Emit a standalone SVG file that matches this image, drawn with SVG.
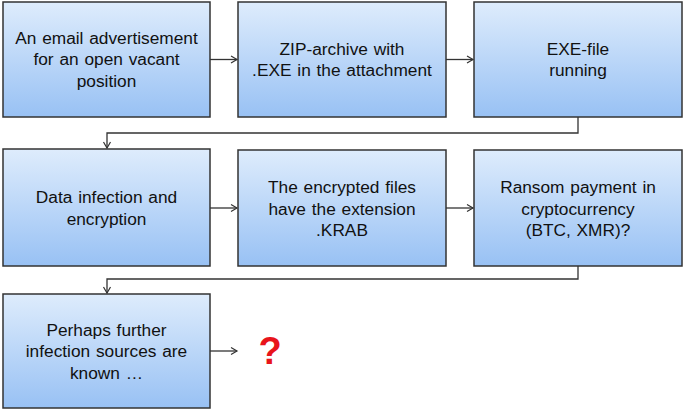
<svg xmlns="http://www.w3.org/2000/svg" width="685" height="414" viewBox="0 0 685 414">
<defs>
<linearGradient id="g" x1="0" y1="0" x2="0" y2="1">
<stop offset="0" stop-color="#deecfc"/>
<stop offset="1" stop-color="#98c1f4"/>
</linearGradient>
<marker id="a" markerWidth="10" markerHeight="10" refX="8" refY="5" orient="auto" markerUnits="userSpaceOnUse">
<path d="M2,1.5 L8,5 L2,8.5" fill="none" stroke="#333" stroke-width="1.2"/>
</marker>
</defs>
<style>
.box{fill:url(#g);stroke:#333;stroke-width:1.5}
.t{font-family:"Liberation Sans",Arial,sans-serif;font-size:17.3px;word-spacing:1px;fill:#111;text-anchor:middle}
.c{fill:none;stroke:#333;stroke-width:1.3;marker-end:url(#a)}
</style>
<g id="connectors">
<path class="c" d="M210,59.5 H237"/>
<path class="c" d="M446,59.5 H473"/>
<path class="c" d="M578,117 V133 H107 V148"/>
<path class="c" d="M210,208 H237"/>
<path class="c" d="M446,208 H473"/>
<path class="c" d="M578,266 V279 H107 V293"/>
<path class="c" d="M210,351 H237"/>
</g>
<g id="n1"><rect class="box" x="3" y="2" width="207" height="115"/>
<text class="t" x="106.5" y="43.5">An email advertisement</text><text class="t" x="106.5" y="65">for an open vacant</text><text class="t" x="106.5" y="86.5">position</text></g>
<g id="n2"><rect class="box" x="238" y="2" width="208" height="115"/>
<text class="t" x="342" y="54.5">ZIP-archive with</text><text class="t" x="342" y="76">.EXE in the attachment</text></g>
<g id="n3"><rect class="box" x="474" y="2" width="208" height="115"/>
<text class="t" x="578" y="54.5">EXE-file</text><text class="t" x="578" y="76">running</text></g>
<g id="n4"><rect class="box" x="3" y="149" width="207" height="117"/>
<text class="t" x="106.5" y="203">Data infection and</text><text class="t" x="106.5" y="224.5">encryption</text></g>
<g id="n5"><rect class="box" x="238" y="150" width="208" height="116"/>
<text class="t" x="342" y="193">The encrypted files</text><text class="t" x="342" y="214.5">have the extension</text><text class="t" x="342" y="236">.KRAB</text></g>
<g id="n6"><rect class="box" x="474" y="150" width="208" height="116"/>
<text class="t" x="578" y="193">Ransom payment in</text><text class="t" x="578" y="214.5">cryptocurrency</text><text class="t" x="578" y="236">(BTC, XMR)?</text></g>
<g id="n7"><rect class="box" x="3" y="294" width="207" height="114"/>
<text class="t" x="106.5" y="335.5">Perhaps further</text><text class="t" x="106.5" y="357">infection sources are</text><text class="t" x="106.5" y="378.5">known …</text></g>
<g id="q"><text x="270" y="364" font-family="Liberation Sans,Arial,sans-serif" font-size="38" font-weight="bold" fill="#e8141b" text-anchor="middle">?</text></g>
</svg>
